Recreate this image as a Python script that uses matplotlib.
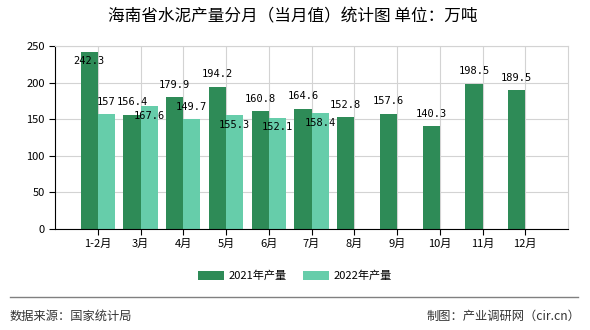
import matplotlib.pyplot as plt
import numpy as np

plt.rcParams['font.family'] = ['Noto Sans CJK SC', 'DejaVu Sans']

months = ['1-2月', '3月', '4月', '5月', '6月', '7月', '8月', '9月', '10月', '11月', '12月']
y2021 = [242.3, 156.4, 179.9, 194.2, 160.8, 164.6, 152.8, 157.6, 140.3, 198.5, 189.5]
y2022 = [157, 167.6, 149.7, 155.3, 152.1, 158.4]
# label above (1) or tucked under the bar top (-1)
pos2021 = [-1, 1, 1, 1, 1, 1, 1, 1, 1, 1, 1]
pos2022 = [1, -1, 1, -1, -1, -1]

c1 = '#2E8B57'
c2 = '#66CDAA'

fig = plt.figure(figsize=(5.9, 3.3), dpi=100)
ax = fig.add_axes([55/590, 1-229/330, 513/590, 183/330])

x = np.arange(len(months))
w = 0.4
b1 = ax.bar(x - w/2, y2021, w, color=c1, label='2021年产量', zorder=2)
b2 = ax.bar(x[:len(y2022)] + w/2, y2022, w, color=c2, label='2022年产量', zorder=2)

for bars, vals, pos in ((b1, y2021, pos2021), (b2, y2022, pos2022)):
    for r, v, p in zip(bars, vals, pos):
        txt = str(int(v)) if v == int(v) else '%.1f' % v
        ax.annotate(txt, (r.get_x() + r.get_width()/2, v),
                    xytext=(0, 9 if p > 0 else -7), textcoords='offset points',
                    ha='center', va='center', fontsize=7.5,
                    family='DejaVu Sans Mono', zorder=3)

ax.set_xlim(-1, 11)
ax.set_ylim(0, 250)
ax.set_yticks(range(0, 251, 50))
ax.set_xticks(x)
ax.set_xticklabels(months, fontsize=8)
ax.tick_params(axis='y', labelsize=8, length=4)
ax.tick_params(axis='x', length=4, pad=3)
ax.grid(True, color='#d3d3d3', linewidth=0.8, zorder=0)
ax.set_axisbelow(True)
for s in ('top', 'right'):
    ax.spines[s].set_color('#d3d3d3')
ax.spines['left'].set_color('black')
ax.spines['bottom'].set_color('black')

ax.legend(loc='center', bbox_to_anchor=(295/590, 1-276/330), bbox_transform=fig.transFigure,
          ncol=2, frameon=False, fontsize=8, handlelength=2.3, handleheight=0.9,
          columnspacing=1.5, handletextpad=0.4)

fig.text(293/590, 1-17/330, '海南省水泥产量分月（当月值）统计图 单位：万吨', ha='center', va='center',
         fontsize=12, color='black')
fig.add_artist(plt.Line2D([10/590, 578/590], [1-297/330, 1-297/330], color='#808080',
                          linewidth=1, transform=fig.transFigure))
fig.text(10/590, 1-316/330, '数据来源：国家统计局', ha='left', va='center', fontsize=8.8, color='#333333')
fig.text(580/590, 1-316/330, '制图：产业调研网（cir.cn）', ha='right', va='center', fontsize=8.8, color='#333333')

fig.savefig('out.png', dpi=100)
